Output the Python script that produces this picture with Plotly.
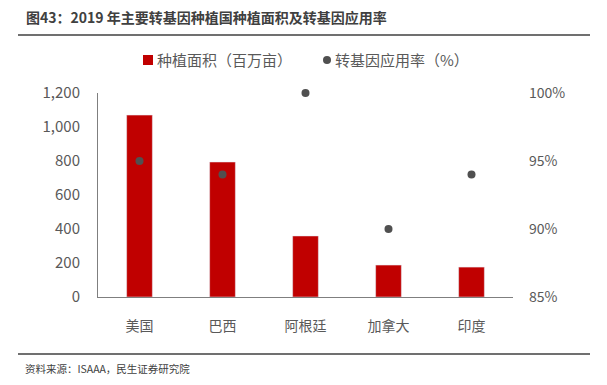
import plotly.graph_objects as go

categories = ["美国", "巴西", "阿根廷", "加拿大", "印度"]
area = [1070, 794, 359, 188, 176]
rate = [95, 94, 100, 90, 94]
left_ticks = [0, 200, 400, 600, 800, 1000, 1200]
right_ticks = [85, 90, 95, 100]
right_labels = ["85%", "90%", "95%", "100%"]
bar_name = "种植面积（百万亩）"
dot_name = "转基因应用率（%）"

# page body has an 8px default margin, so the figure is shrunk by 8px
OFF = 8
W, H = 607 - OFF, 385 - OFF
L, R, T, B = 98 - OFF, 94, 93 - OFF, 88
pw, ph = W - L - R, H - T - B

def px(x):  # x in window pixels -> paper
    return (x - OFF - L) / pw

def py(y):  # y in window pixels -> paper
    return (H - B - (y - OFF)) / ph

FONT = "Noto Sans CJK SC"
GREY = "#595959"
RED = "#C00000"
DOT = "#505050"

fig = go.Figure()
fig.add_trace(go.Bar(x=categories, y=area, name=bar_name,
                     marker_color=RED, width=0.31))
fig.add_trace(go.Scatter(x=categories, y=rate, name=dot_name, mode="markers",
                         marker=dict(color=DOT, size=8), yaxis="y2", cliponaxis=False))

fig.update_layout(
    width=W, height=H,
    margin=dict(l=L, r=R, t=T, b=B, autoexpand=False),
    plot_bgcolor="white", paper_bgcolor="white",
    font=dict(family=FONT, color=GREY, size=14),
    showlegend=False,
    xaxis=dict(showline=True, linecolor="#7f7f7f", linewidth=1, ticks="",
               tickfont=dict(size=14, color=GREY), showgrid=False, automargin=False,
               ticklabelstandoff=16),
    yaxis=dict(range=[0, 1200], tickvals=left_ticks, tickformat=",d", showline=True,
               linecolor="#7f7f7f", linewidth=1, showgrid=False, zeroline=False,
               tickfont=dict(size=15, color=GREY), ticks="", ticklabelstandoff=14,
               automargin=False),
    yaxis2=dict(range=[85, 100], overlaying="y", side="right", tickvals=right_ticks,
                ticktext=right_labels, showgrid=False, zeroline=False, showline=False,
                tickfont=dict(size=14, color=GREY), ticklabelstandoff=15, automargin=False),
    bargap=0.69,
)

# manual legend
fig.add_shape(type="rect", xref="paper", yref="paper", x0=px(143), x1=px(153), y0=py(65), y1=py(55),
              fillcolor=RED, line=dict(width=0))
fig.add_annotation(x=px(155), y=py(60), xref="paper", yref="paper", xanchor="left", yanchor="middle",
                   text=bar_name, showarrow=False, font=dict(size=15, color=GREY, family=FONT))
fig.add_shape(type="circle", xref="paper", yref="paper", x0=px(323), x1=px(331), y0=py(64), y1=py(56),
              fillcolor=DOT, line=dict(width=0))
fig.add_annotation(x=px(333), y=py(60), xref="paper", yref="paper", xanchor="left", yanchor="middle",
                   text=dot_name, showarrow=False, font=dict(size=15, color=GREY, family=FONT))

fig.add_annotation(x=px(24), y=py(17), xref="paper", yref="paper", xanchor="left", yanchor="middle",
                   text="<b>图43：2019 年主要转基因种植国种植面积及转基因应用率</b>", showarrow=False,
                   font=dict(size=14, color="#404040", family=FONT))
fig.add_shape(type="line", xref="paper", yref="paper", x0=px(18), x1=px(590), y0=py(35), y1=py(35),
              line=dict(color="#404040", width=1.5))
fig.add_shape(type="line", xref="paper", yref="paper", x0=px(18), x1=px(590), y0=py(354), y1=py(354),
              line=dict(color="#404040", width=1.5))
fig.add_annotation(x=px(23), y=py(368), xref="paper", yref="paper", xanchor="left", yanchor="middle",
                   text="资料来源：ISAAA，民生证券研究院", showarrow=False,
                   font=dict(size=10.5, color="#404040", family=FONT))

fig.write_html("out.html")
